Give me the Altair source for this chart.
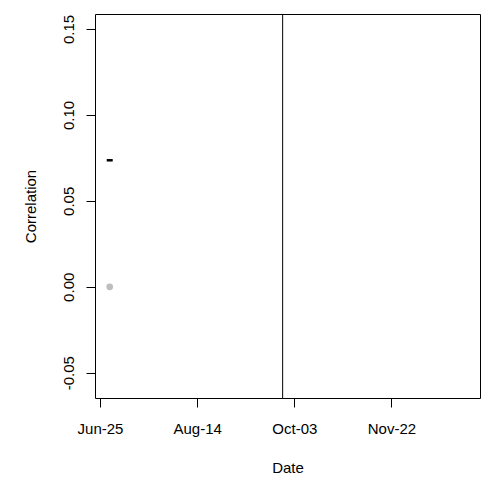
import altair as alt
import pandas as pd

# Data
point_dates = ["2020-06-30"]
corr_main = [0.0736]
corr_base = [0.0]
event_dates = ["2020-09-27"]
x_tick_dates = ["2020-06-25", "2020-08-14", "2020-10-03", "2020-11-22"]
y_tick_values = [-0.05, 0.0, 0.05, 0.10, 0.15]

df_main = pd.DataFrame({"date": point_dates, "corr": corr_main})
df_base = pd.DataFrame({"date": point_dates, "corr": corr_base})
df_event = pd.DataFrame({"date": event_dates})

FONT = "Liberation Sans"
W, H = 385, 384

def dt(s, h=0):
    y, m, d = [int(v) for v in s.split("-")]
    return alt.DateTime(year=y, month=m, date=d, hours=h, utc=True)

x_scale = alt.Scale(type="utc", domain=[dt("2020-06-22", 10), dt("2021-01-06", 14)])
y_scale = alt.Scale(domain=[-0.0647, 0.1587], nice=False, zero=False)

x_axis = alt.Axis(
    values=[dt(s) for s in x_tick_dates], format="%b-%d", grid=False,
    title="Date", tickSize=9, labelPadding=14, domain=False,
    titleX=W / 2, titleY=69, titleBaseline="middle", titleAlign="center",
)
y_axis = alt.Axis(
    values=y_tick_values, grid=False, title="Correlation",
    labelExpr="datum.value < 0 ? '-' + format(-datum.value, '.2f') : format(datum.value, '.2f')",
    labelAngle=-90, labelAlign="center", labelBaseline="bottom",
    tickSize=9, labelPadding=10, domain=False,
    titleX=-65, titleY=H / 2, titleBaseline="middle", titleAlign="center", titleAngle=-90,
)

x_enc = alt.X("date:T", scale=x_scale, axis=x_axis)
y_enc = alt.Y("corr:Q", scale=y_scale, axis=y_axis)

base_pts = alt.Chart(df_base).mark_circle(size=45, color="#BEBEBE", opacity=1).encode(x=x_enc, y=y_enc)
main_pts = alt.Chart(df_main).mark_tick(orient="horizontal", size=6, thickness=2.5, color="black", opacity=1).encode(
    x=alt.X("date:T", scale=x_scale), y=alt.Y("corr:Q", scale=y_scale)
)
event = alt.Chart(df_event).mark_rule(color="black", strokeWidth=1).encode(x=alt.X("date:T", scale=x_scale))

chart = (
    alt.layer(base_pts, main_pts, event)
    .properties(width=W, height=H, autosize=alt.AutoSizeParams(type="none"),
                background="white",
                padding={"left": 87, "top": 6, "right": 3, "bottom": 82})
    .configure_view(stroke="black", strokeWidth=1)
    .configure_axis(labelFont=FONT, titleFont=FONT, labelFontSize=15, titleFontSize=15,
                    labelColor="black", titleColor="black", tickColor="black",
                    titleFontWeight="normal")
)

chart.save("out.html", embed_options={"renderer": "svg", "actions": False})
